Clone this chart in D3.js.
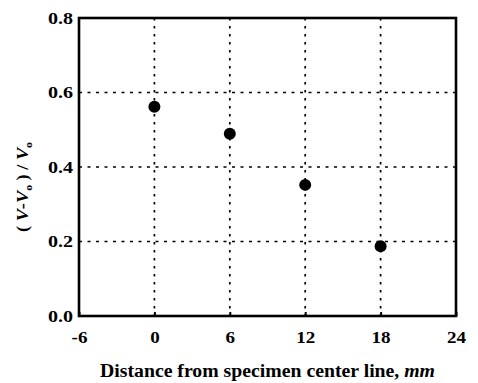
<!DOCTYPE html>
<html>
<head>
<meta charset="utf-8">
<script src="https://cdn.jsdelivr.net/npm/d3@7"></script>
<style>
  body { margin: 0; background: #fff; }
  svg { display: block; }
  svg text { font-family: "Liberation Serif", "Times New Roman", serif !important; font-weight: bold; fill: #000; }
</style>
</head>
<body>
<svg id="chart" width="478" height="383"></svg>
<script>
const distances = [0, 6, 12, 18];
const ratios = [0.562, 0.489, 0.352, 0.187];
const xTicks = [-6, 0, 6, 12, 18, 24];
const yTicks = [0.0, 0.2, 0.4, 0.6, 0.8];
const xGrid = [0, 6, 12, 18];
const yGrid = [0.2, 0.4, 0.6];

(function () {
const svg = d3.select("#chart");
const serif = '"Liberation Serif", "Times New Roman", serif';
const pL = 79, pR = 456, pT = 18, pB = 316;
const x = d3.scaleLinear().domain([-6, 24]).range([pL, pR]);
const y = d3.scaleLinear().domain([0, 0.8]).range([pB, pT]);

function stretch(sel, k) {
  sel.each(function () {
    const len = this.getComputedTextLength();
    d3.select(this).attr("textLength", len * k).attr("lengthAdjust", "spacingAndGlyphs");
  });
}

// grid
svg.append("g").selectAll("line").data(xGrid).join("line")
  .attr("x1", d => x(d)).attr("x2", d => x(d))
  .attr("y1", pT).attr("y2", pB)
  .attr("stroke", "#000").attr("stroke-width", 1.7).attr("stroke-dasharray", "2.5,5.5");
svg.append("g").selectAll("line").data(yGrid).join("line")
  .attr("x1", pL).attr("x2", pR)
  .attr("y1", d => y(d)).attr("y2", d => y(d))
  .attr("stroke", "#000").attr("stroke-width", 1.7).attr("stroke-dasharray", "3,5.5");

// axes tick labels
const fs = 17;
const xAxis = svg.append("g").attr("transform", `translate(0,${pB})`)
  .call(d3.axisBottom(x).tickValues(xTicks).tickFormat(d => String(d)).tickSize(4).tickPadding(11));
xAxis.attr("font-family", serif).attr("font-size", fs);
xAxis.select(".domain").remove();
xAxis.selectAll("line").attr("stroke-width", 2).attr("transform", "translate(0,-4)");
xAxis.selectAll("text").style("font-family", serif).style("font-weight", "bold").attr("font-size", fs);
stretch(xAxis.selectAll("text"), 1.12);

const yAxis = svg.append("g").attr("transform", `translate(${pL},0)`)
  .call(d3.axisLeft(y).tickValues(yTicks).tickFormat(d3.format(".1f")).tickSize(0).tickPadding(6));
yAxis.attr("font-family", serif).attr("font-size", fs);
yAxis.select(".domain").remove();
yAxis.selectAll("text").style("font-family", serif).style("font-weight", "bold").attr("font-size", fs);
stretch(yAxis.selectAll("text"), 1.18);

// frame
svg.append("rect").attr("x", pL).attr("y", pT)
  .attr("width", pR - pL).attr("height", pB - pT)
  .attr("fill", "none").attr("stroke", "#000").attr("stroke-width", 2.6);

// points
svg.append("g").selectAll("circle").data(distances).join("circle")
  .attr("cx", d => x(d)).attr("cy", (d, i) => y(ratios[i]))
  .attr("r", 6).attr("fill", "#000");

// x label
const xl = svg.append("text").attr("x", (pL + pR) / 2).attr("y", 377)
  .attr("text-anchor", "middle").attr("font-size", 18);
xl.append("tspan").text("Distance from specimen center line, ");
xl.append("tspan").attr("font-style", "italic").text("mm");
xl.attr("textLength", 335).attr("lengthAdjust", "spacingAndGlyphs");

// y label
const yl = svg.append("text").attr("transform", "translate(28,187) rotate(-90)")
  .attr("text-anchor", "middle").attr("font-size", 17);
yl.append("tspan").text("( ");
yl.append("tspan").attr("font-style", "italic").text("V");
yl.append("tspan").text("-");
yl.append("tspan").attr("font-style", "italic").text("V");
yl.append("tspan").attr("font-size", 11).attr("dy", 4).text("o");
yl.append("tspan").attr("dy", -4).text(" ) / ");
yl.append("tspan").attr("font-style", "italic").text("V");
yl.append("tspan").attr("font-size", 11).attr("dy", 4).text("o");
yl.attr("textLength", 90).attr("lengthAdjust", "spacingAndGlyphs");
})();
</script>
</body>
</html>
